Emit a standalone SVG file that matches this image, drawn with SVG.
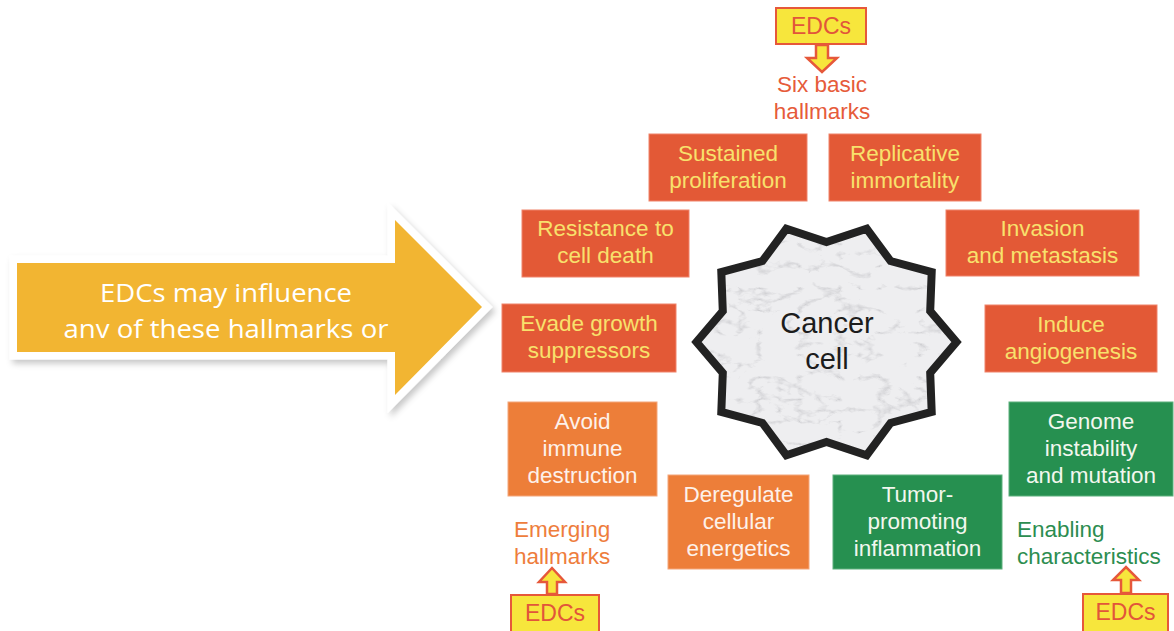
<svg xmlns="http://www.w3.org/2000/svg" width="1174" height="631" viewBox="0 0 1174 631">
  <defs>
    <style>
      .lbl { font-family: "Liberation Sans", Arial, sans-serif; font-size: 22.5px; text-anchor: middle; }
      .red rect { fill: #e35936; stroke: #f0836a; stroke-width: 1; }
      .red text { fill: #f8e16c; }
      .org rect { fill: #ed7e39; stroke: #f4a67a; stroke-width: 1; }
      .org text { fill: #fdf1ea; }
      .grn rect { fill: #269050; stroke: #5cb07c; stroke-width: 1; }
      .grn text { fill: #f2f7ee; }
      .edc rect { fill: #f7e63c; stroke: #e6583a; stroke-width: 2; }
      .edc text { fill: #e2553a; font-size: 23px; }
      .edcarrow { fill: #f7e63c; stroke: #e6583a; stroke-width: 2.5; stroke-linejoin: miter; }
      .cap { font-family: "Liberation Sans", Arial, sans-serif; font-size: 22.5px; }
      .cell-text { font-family: "Liberation Sans", Arial, sans-serif; font-size: 29px; fill: #1c1c1c; text-anchor: middle; }
    </style>
    <filter id="marble" x="0" y="0" width="100%" height="100%">
      <feTurbulence type="turbulence" baseFrequency="0.025 0.045" numOctaves="4" seed="7" result="t"/>
      <feColorMatrix in="t" type="matrix" values="0 0 0 0 0.40  0 0 0 0 0.40  0 0 0 0 0.43  -2.4 0 0 0 0.50" result="veins"/>
      <feComposite in="veins" in2="SourceGraphic" operator="atop"/>
    </filter>
    <filter id="soft" x="-10%" y="-10%" width="130%" height="130%">
      <feDropShadow dx="3" dy="4" stdDeviation="3" flood-color="#000" flood-opacity="0.22"/>
    </filter>
    <clipPath id="arrowText">
      <rect x="0" y="200" width="500" height="141"/>
    </clipPath>
  </defs>

  <rect width="1174" height="631" fill="#ffffff"/>

  <!-- big pointer arrow -->
  <g id="pointer">
    <polygon points="17,263 395,263 395,220 482,307 395,395 395,352 17,352" fill="#f2b532" stroke="#ffffff" stroke-width="15" stroke-linejoin="miter" filter="url(#soft)"/>
    <polygon points="17,263 395,263 395,220 482,307 395,395 395,352 17,352" fill="#f2b532"/>
    <g clip-path="url(#arrowText)" font-family="'Open Sans', 'Noto Sans', sans-serif" font-size="25" fill="#ffffff" text-anchor="middle">
      <text x="226" y="302" textLength="252" lengthAdjust="spacingAndGlyphs">EDCs may influence</text>
      <text x="226" y="338" textLength="325" lengthAdjust="spacingAndGlyphs">anv of these hallmarks or</text>
    </g>
  </g>

  <!-- central cell: ten-point star, slightly wider than tall -->
  <g id="cancer-cell">
    <polygon points="956.5,342 930.2,311.1 931.7,272.1 890.6,261.1 866.7,228.8 826.5,242 786.3,228.8 762.4,261.1 721.3,272.1 722.8,311.1 696.5,342 722.8,372.9 721.3,411.9 762.4,422.9 786.3,455.2 826.5,442 866.7,455.2 890.6,422.9 931.7,411.9 930.2,372.9" fill="#eeeef0" filter="url(#marble)"/>
    <polygon points="956.5,342 930.2,311.1 931.7,272.1 890.6,261.1 866.7,228.8 826.5,242 786.3,228.8 762.4,261.1 721.3,272.1 722.8,311.1 696.5,342 722.8,372.9 721.3,411.9 762.4,422.9 786.3,455.2 826.5,442 866.7,455.2 890.6,422.9 931.7,411.9 930.2,372.9" fill="none" stroke="#222222" stroke-width="8" stroke-linejoin="miter"/>
    <text class="cell-text" x="827" y="333">Cancer</text>
    <text class="cell-text" x="827" y="369">cell</text>
  </g>

  <!-- six basic hallmarks -->
  <g id="sustained-proliferation" class="red lbl">
    <rect x="649" y="134" width="158" height="67"/>
    <text x="728" y="161">Sustained</text>
    <text x="728" y="188">proliferation</text>
  </g>
  <g id="replicative-immortality" class="red lbl">
    <rect x="829" y="134" width="152" height="67"/>
    <text x="905" y="161">Replicative</text>
    <text x="905" y="188">immortality</text>
  </g>
  <g id="resistance-cell-death" class="red lbl">
    <rect x="522" y="210" width="167" height="67"/>
    <text x="605.5" y="236">Resistance to</text>
    <text x="605.5" y="263">cell death</text>
  </g>
  <g id="invasion-metastasis" class="red lbl">
    <rect x="946" y="210" width="193" height="66"/>
    <text x="1042.5" y="236">Invasion</text>
    <text x="1042.5" y="263">and metastasis</text>
  </g>
  <g id="evade-growth-suppressors" class="red lbl">
    <rect x="502" y="304" width="174" height="68"/>
    <text x="589" y="331">Evade growth</text>
    <text x="589" y="358">suppressors</text>
  </g>
  <g id="induce-angiogenesis" class="red lbl">
    <rect x="985" y="305" width="172" height="67"/>
    <text x="1071" y="332">Induce</text>
    <text x="1071" y="359">angiogenesis</text>
  </g>

  <!-- emerging hallmarks -->
  <g id="avoid-immune-destruction" class="org lbl">
    <rect x="508" y="402" width="149" height="94"/>
    <text x="582.5" y="429">Avoid</text>
    <text x="582.5" y="456">immune</text>
    <text x="582.5" y="483">destruction</text>
  </g>
  <g id="deregulate-energetics" class="org lbl">
    <rect x="668" y="475" width="141" height="94"/>
    <text x="738.5" y="502">Deregulate</text>
    <text x="738.5" y="529">cellular</text>
    <text x="738.5" y="556">energetics</text>
  </g>

  <!-- enabling characteristics -->
  <g id="tumor-promoting-inflammation" class="grn lbl">
    <rect x="833" y="475" width="169" height="94"/>
    <text x="917.5" y="502">Tumor-</text>
    <text x="917.5" y="529">promoting</text>
    <text x="917.5" y="556">inflammation</text>
  </g>
  <g id="genome-instability" class="grn lbl">
    <rect x="1009" y="402" width="164" height="94"/>
    <text x="1091" y="429">Genome</text>
    <text x="1091" y="456">instability</text>
    <text x="1091" y="483">and mutation</text>
  </g>

  <!-- group captions -->
  <g id="caption-six-basic" class="cap" fill="#e65b3a" text-anchor="middle">
    <text x="822" y="92">Six basic</text>
    <text x="822" y="119">hallmarks</text>
  </g>
  <g id="caption-emerging" class="cap" fill="#ee7d3c">
    <text x="514" y="537">Emerging</text>
    <text x="514" y="564">hallmarks</text>
  </g>
  <g id="caption-enabling" class="cap" fill="#2c8d50">
    <text x="1017" y="537">Enabling</text>
    <text x="1017" y="564">characteristics</text>
  </g>

  <!-- EDC sources -->
  <g id="edc-top" class="edc lbl">
    <rect x="776" y="8" width="90" height="36"/>
    <text x="821" y="34">EDCs</text>
  </g>
  <g id="edc-left" class="edc lbl">
    <rect x="511" y="595" width="88" height="45"/>
    <text x="555" y="621">EDCs</text>
  </g>
  <g id="edc-right" class="edc lbl">
    <rect x="1083" y="594" width="85" height="45"/>
    <text x="1125.5" y="620">EDCs</text>
  </g>

  <!-- block arrows from the EDC boxes -->
  <g id="connectors">
    <polygon class="edcarrow" points="816,45 828,45 828,58 837,58 822,72 807,58 816,58"/>
    <polygon class="edcarrow" points="547,594 557,594 557,582 565,582 552,568 539,582 547,582"/>
    <polygon class="edcarrow" points="1121,593 1131,593 1131,580 1139,580 1126,567 1113,580 1121,580"/>
  </g>
</svg>
